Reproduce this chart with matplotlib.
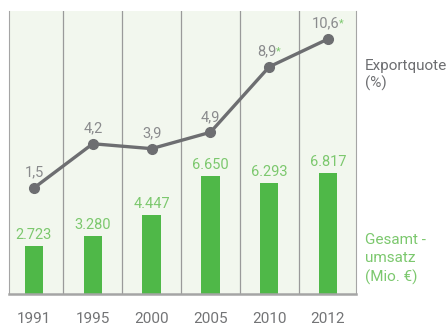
import matplotlib.pyplot as plt

# Daten
years = ['1991', '1995', '2000', '2005', '2010', '2012']
umsatz = [2723, 3280, 4447, 6650, 6293, 6817]
umsatz_labels = ['2.723', '3.280', '4.447', '6.650', '6.293', '6.817']
exportquote = [1.5, 4.2, 3.9, 4.9, 8.9, 10.6]
export_labels = ['1,5', '4,2', '3,9', '4,9', '8,9', '10,6']
export_star = [False, False, False, False, True, True]

green = '#4fb848'
light_green = '#7cc86e'
grey = '#6d6e71'

plt.rcParams['font.family'] = ['Roboto', 'DejaVu Sans']

fig = plt.figure(figsize=(4.47, 3.26), dpi=100)
ax = fig.add_axes([9 / 447, 32 / 326, 347 / 447, 283 / 326])
ax.set_facecolor('#f2f7ee')

x = list(range(len(years)))
ax.bar(x, umsatz, width=0.31, color=green, zorder=2)
ax.set_xlim(-0.425, 5.476)
ax.set_ylim(0, 16000)

for i, v in enumerate(umsatz):
    ax.annotate(umsatz_labels[i], (i, v), xytext=(0, 3), textcoords='offset points',
                ha='center', va='bottom', color=light_green, fontsize=10.5)

# Trennlinien
for i in range(len(years) - 1):
    ax.axvline(i + 0.5, color='#9a9a9a', lw=0.9, zorder=1)

ax.spines['top'].set_visible(False)
ax.spines['left'].set_color('#a5a5a5')
ax.spines['right'].set_color('#a5a5a5')
ax.spines['bottom'].set_color('#a5a5a5')
ax.spines['bottom'].set_linewidth(1.8)
ax.set_yticks([])
ax.set_xticks(x)
ax.set_xticklabels(years, color='#737476', fontsize=11)
ax.tick_params(axis='x', length=0, pad=13)

ax2 = ax.twinx()
ax2.plot(x, exportquote, color=grey, lw=2.4, marker='o', markersize=7, zorder=3)
ax2.set_ylim(-4.98, 12.31)
ax2.set_yticks([])
for s in ax2.spines.values():
    s.set_visible(False)

for i, v in enumerate(exportquote):
    dx = -2 if export_star[i] else 0
    t = ax2.annotate(export_labels[i], (i, v), xytext=(dx, 6), textcoords='offset points',
                     ha='center', va='bottom', color='#8a8b8d', fontsize=10.5)
    if export_star[i]:
        ax2.annotate('*', xy=(1.0, 0.85), xycoords=t, ha='left', va='top',
                     color=light_green, fontsize=8)

fig.text(365 / 447, 1 - 75 / 326, 'Exportquote\n(%)', color=grey, fontsize=11,
         va='center', ha='left', linespacing=1.25)
fig.text(365 / 447, 1 - 259 / 326, 'Gesamt -\numsatz\n(Mio. €)', color=light_green, fontsize=11,
         va='center', ha='left', linespacing=1.35)

fig.savefig('out.png', dpi=100)
